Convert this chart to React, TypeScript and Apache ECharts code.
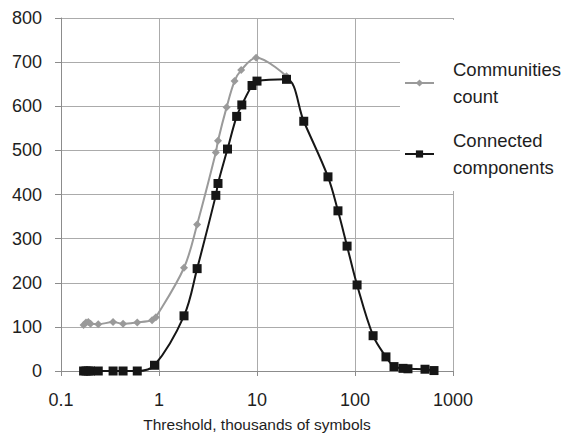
import React, { useEffect, useRef } from "react";
import * as echarts from "echarts";

// Threshold values (thousands of symbols) and counts for each series
const communitiesX = [0.17, 0.18, 0.19, 0.2, 0.24, 0.34, 0.43, 0.6, 0.85, 0.93, 1.8, 2.45, 3.8, 4.0, 4.9, 5.9, 6.9, 9.8, 20];
const communitiesY = [104, 110, 111, 107, 106, 111, 107, 110, 115, 122, 234, 332, 495, 522, 598, 657, 682, 710, 668];

const componentsX = [0.17, 0.18, 0.19, 0.2, 0.24, 0.34, 0.43, 0.6, 0.9, 1.8, 2.45, 3.8, 4.0, 5.0, 6.2, 7.0, 8.9, 10, 20, 30, 53, 67, 83, 105, 153, 207, 250, 309, 347, 518, 640];
const componentsY = [0, 0, 0, 0, 0, 0, 0, 0, 13, 125, 232, 398, 425, 503, 577, 603, 647, 657, 661, 566, 440, 363, 283, 195, 80, 32, 10, 6, 5, 4, 1];

const seriesNames = ["Communities count", "Connected components"];
const legendLabels: Record<string, string> = {
  "Communities count": "Communities\ncount",
  "Connected components": "Connected\ncomponents",
};
const xAxisTitle = "Threshold, thousands of symbols";

const zip = (xs: number[], ys: number[]) => xs.map((x, i) => [x, ys[i]]);

export default function App() {
  const ref = useRef<HTMLDivElement>(null);

  useEffect(() => {
    document.body.style.margin = "0";
    if (!ref.current) return;
    const chart = echarts.init(ref.current, undefined, { renderer: "svg" });
    const gridColor = "#ababab";
    const textColor = "#1e1e1e";
    chart.setOption({
      animation: false,
      backgroundColor: "#ffffff",
      grid: { left: 61, top: 18, right: 112, bottom: 66, containLabel: false },
      xAxis: {
        type: "log",
        logBase: 10,
        min: 0.1,
        max: 1000,
        name: xAxisTitle,
        nameLocation: "middle",
        nameGap: 45,
        nameTextStyle: {
          fontFamily: "'Liberation Sans', Arial, sans-serif",
          fontSize: 15.5,
          color: textColor,
        },
        axisLine: { show: true, onZero: false, lineStyle: { color: "#8c8c8c", width: 1 } },
        axisTick: { show: true, length: 5, inside: false, lineStyle: { color: "#8c8c8c" } },
        axisLabel: {
          margin: 20,
          fontFamily: "'Liberation Sans', Arial, sans-serif",
          fontSize: 18,
          color: textColor,
          formatter: (v: number) => String(v),
        },
        splitLine: { show: true, lineStyle: { color: gridColor, width: 1 } },
        minorTick: { show: false },
        minorSplitLine: { show: false },
      },
      yAxis: {
        type: "value",
        min: 0,
        max: 800,
        interval: 100,
        axisLine: { show: true, lineStyle: { color: "#8c8c8c", width: 1 } },
        axisTick: { show: true, length: 6, inside: false, lineStyle: { color: "#8c8c8c" } },
        axisLabel: {
          margin: 19,
          fontFamily: "'Liberation Sans', Arial, sans-serif",
          fontSize: 18,
          color: textColor,
        },
        splitLine: { show: true, lineStyle: { color: gridColor, width: 1 } },
      },
      legend: {
        orient: "vertical",
        left: 400,
        top: 20,
        width: 165,
        padding: [36, 20, 10, 4],
        backgroundColor: "#ffffff",
        itemWidth: 29,
        itemHeight: 9,
        itemGap: 17,
        data: seriesNames,
        formatter: (name: string) => legendLabels[name] ?? name,
        textStyle: {
          fontFamily: "'Liberation Sans', Arial, sans-serif",
          fontSize: 18.5,
          lineHeight: 27,
          color: textColor,
          padding: [0, 0, 0, 14],
        },
      },
      series: [
        {
          name: seriesNames[0],
          type: "line",
          data: zip(communitiesX, communitiesY),
          smooth: 0.35,
          symbol: "diamond",
          symbolSize: 8,
          lineStyle: { color: "#9a9a9a", width: 2 },
          itemStyle: { color: "#9a9a9a" },
          z: 2,
        },
        {
          name: seriesNames[1],
          type: "line",
          data: zip(componentsX, componentsY),
          smooth: 0.35,
          symbol: "rect",
          symbolSize: 9,
          lineStyle: { color: "#161616", width: 2 },
          itemStyle: { color: "#161616" },
          z: 3,
        },
      ],
    });
    return () => chart.dispose();
  }, []);

  return <div ref={ref} style={{ width: 565, height: 437 }} />;
}
